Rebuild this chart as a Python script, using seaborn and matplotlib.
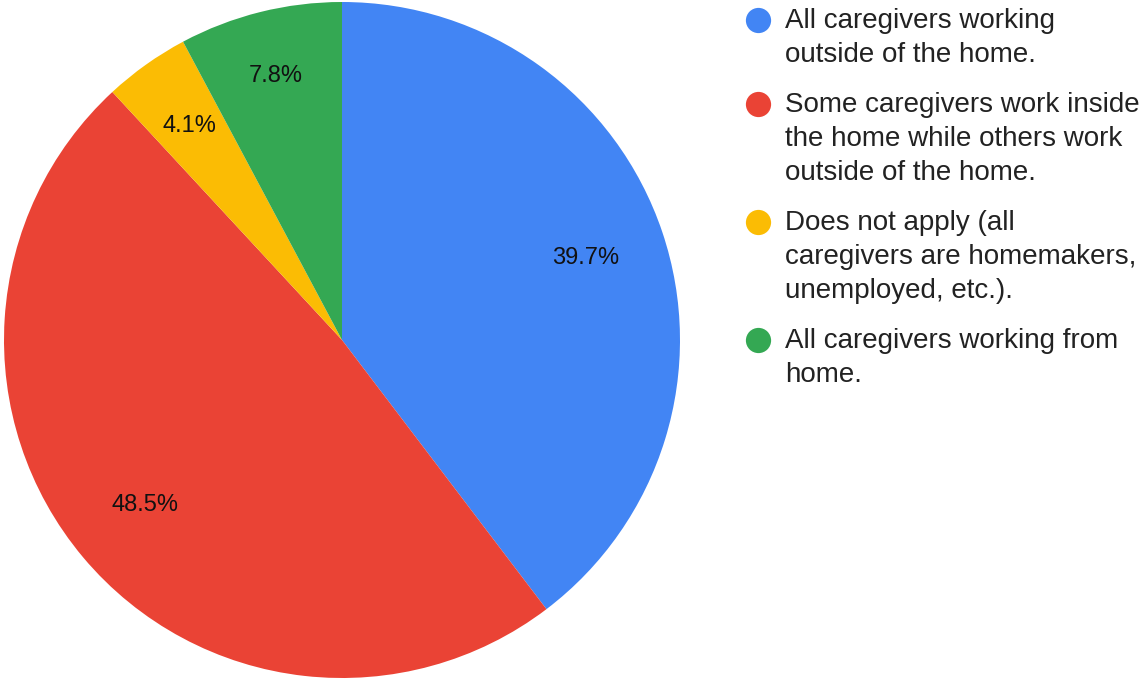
"""Pie chart: caregivers' work situation."""

import matplotlib
matplotlib.use("Agg")
import matplotlib.pyplot as plt
import seaborn as sns

sns.set_theme(style="white")
plt.rcParams["font.family"] = ["Liberation Sans", "DejaVu Sans"]

# data
labels = [
    "All caregivers working\noutside of the home.",
    "Some caregivers work inside\nthe home while others work\noutside of the home.",
    "Does not apply (all\ncaregivers are homemakers,\nunemployed, etc.).",
    "All caregivers working from\nhome.",
]
shares = [39.7, 48.5, 4.1, 7.8]
colors = ["#4285F4", "#EA4335", "#FBBC04", "#34A853"]

# label radius per slice (small slices sit a bit further out)
label_radius = [0.76, 0.76, 0.777, 0.805]

fig = plt.figure(figsize=(11.4, 6.79), dpi=100)
fig.patch.set_facecolor("white")

# pie axes: square, centred at (342, 340) px, radius 338 px
W, H = 1140, 679
ax = fig.add_axes([4 / W, 1 / H, 676 / W, 676 / H])
wedges, _, autotexts = ax.pie(
    shares,
    colors=colors,
    startangle=90,
    counterclock=False,
    autopct="%.1f%%",
    pctdistance=0.76,
    wedgeprops=dict(linewidth=0),
    textprops=dict(fontsize=17, color="#111111"),
)
for t, r in zip(autotexts, label_radius):
    x, y = t.get_position()
    t.set_position((x * r / 0.76, y * r / 0.76))
ax.set_xlim(-1.0, 1.0)
ax.set_ylim(-1.0, 1.0)
ax.set_aspect("equal")

# legend drawn in pixel coordinates on an overlay axes
lax = fig.add_axes([0, 0, 1, 1])
lax.set_xlim(0, W)
lax.set_ylim(H, 0)
lax.axis("off")

line_h = 34
baseline = 28
for lab, col in zip(labels, colors):
    lax.scatter([758], [baseline - 8.5], s=330, color=col, linewidths=0)
    lines = lab.split("\n")
    for i, line in enumerate(lines):
        lax.text(785, baseline + i * line_h, line, fontsize=20,
                 color="#222222", va="baseline", ha="left")
    baseline += len(lines) * line_h + 16

fig.savefig("out.png", dpi=100)
plt.close(fig)
